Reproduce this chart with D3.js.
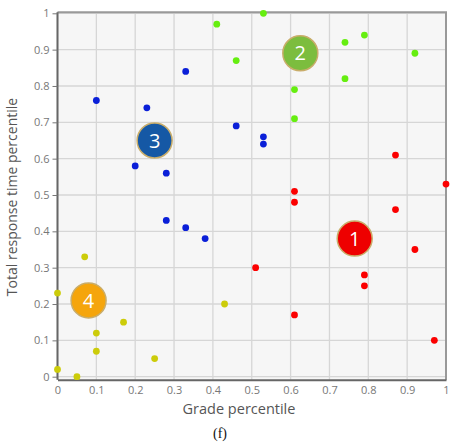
<!DOCTYPE html>
<html>
<head>
<meta charset="utf-8">
<script src="https://cdn.jsdelivr.net/npm/d3@7"></script>
<style>
  html, body { margin: 0; padding: 0; background: #fff; }
  svg { display: block; }
</style>
</head>
<body>
<svg id="chart" width="453" height="448"></svg>
<script>
// Cluster 1 (red)
const c1x = [0.87, 1.00, 0.61, 0.61, 0.87, 0.92, 0.51, 0.79, 0.79, 0.61, 0.97];
const c1y = [0.61, 0.53, 0.51, 0.48, 0.46, 0.35, 0.30, 0.28, 0.25, 0.17, 0.10];
// Cluster 2 (green)
const c2x = [0.41, 0.53, 0.46, 0.74, 0.79, 0.92, 0.74, 0.61, 0.61];
const c2y = [0.97, 1.00, 0.87, 0.92, 0.94, 0.89, 0.82, 0.79, 0.71];
// Cluster 3 (blue)
const c3x = [0.33, 0.10, 0.23, 0.20, 0.28, 0.28, 0.33, 0.38, 0.46, 0.53, 0.53];
const c3y = [0.84, 0.76, 0.74, 0.58, 0.56, 0.43, 0.41, 0.38, 0.69, 0.66, 0.64];
// Cluster 4 (yellow)
const c4x = [0.07, 0.00, 0.17, 0.10, 0.10, 0.25, 0.00, 0.05, 0.43];
const c4y = [0.33, 0.23, 0.15, 0.12, 0.07, 0.05, 0.02, 0.00, 0.20];

// Cluster badge positions and names
const badgeNames = ["1", "2", "3", "4"];
const badgeX = [0.765, 0.625, 0.25, 0.08];
const badgeY = [0.38, 0.89, 0.65, 0.21];

const ticks = [0, 0.1, 0.2, 0.3, 0.4, 0.5, 0.6, 0.7, 0.8, 0.9, 1];
const tickLabels = ["0", "0.1", "0.2", "0.3", "0.4", "0.5", "0.6", "0.7", "0.8", "0.9", "1"];

const xTitle = "Grade percentile";
const yTitle = "Total response time percentile";
const caption = "(f)";

const series = [
  { xs: c1x, ys: c1y, color: "#fb0000" },
  { xs: c2x, ys: c2y, color: "#66ee10" },
  { xs: c3x, ys: c3y, color: "#0a1fd8" },
  { xs: c4x, ys: c4y, color: "#cccc0a" }
];
const badgeFill = ["#ee0000", "#7cbd3e", "#1558a5", "#f5a50c"];

const svg = d3.select("#chart");
const x = d3.scaleLinear().domain([0, 1]).range([57.5, 446]);
const y = d3.scaleLinear().domain([0, 1]).range([376.7, 13.3]);

// plot background
svg.append("rect")
  .attr("x", x(0)).attr("y", y(1) - 1)
  .attr("width", x(1) - x(0)).attr("height", y(0) - y(1) + 4)
  .attr("fill", "#f6f6f6");

// grid
const grid = svg.append("g").attr("stroke", "#d6d6d6").attr("stroke-width", 1.3);
ticks.forEach(t => {
  grid.append("line").attr("x1", x(t)).attr("x2", x(t)).attr("y1", y(1) - 1).attr("y2", y(0) + 3);
  grid.append("line").attr("x1", x(0)).attr("x2", x(1)).attr("y1", y(t)).attr("y2", y(t));
});

// frame: top and right
svg.append("path")
  .attr("d", `M${x(0)},${y(1) - 1}H${x(1)}V${y(0) + 3}`)
  .attr("fill", "none").attr("stroke", "#999").attr("stroke-width", 2);

// axes
const fmt = (d) => tickLabels[ticks.indexOf(d)];
const xAxis = svg.append("g")
  .attr("transform", `translate(0,${y(0) + 3})`)
  .call(d3.axisBottom(x).tickValues(ticks).tickFormat(fmt).tickSize(0).tickPadding(7));
const yAxis = svg.append("g")
  .attr("transform", `translate(${x(0)},0)`)
  .call(d3.axisLeft(y).tickValues(ticks).tickFormat(fmt).tickSize(5).tickPadding(3));

[xAxis, yAxis].forEach(a => {
  a.select(".domain").attr("stroke", "#666").attr("stroke-width", 2);
  a.selectAll(".tick line").attr("stroke", "#777");
  a.selectAll(".tick text")
    .attr("fill", "#777")
    .style("font-family", "'Open Sans', sans-serif")
    .style("font-size", "11px");
});
yAxis.select(".domain").attr("d", `M0,${y(1) - 1}V${y(0) + 3}`);

// points
series.forEach(s => {
  svg.append("g").selectAll("circle")
    .data(s.xs.map((v, i) => [v, s.ys[i]]))
    .join("circle")
    .attr("cx", d => x(d[0]))
    .attr("cy", d => y(d[1]))
    .attr("r", 3.4)
    .attr("fill", s.color);
});

// cluster badges
const badges = svg.append("g");
badgeNames.forEach((n, i) => {
  const g = badges.append("g").attr("transform", `translate(${x(badgeX[i])},${y(badgeY[i])})`);
  g.append("circle").attr("r", 17.5)
    .attr("fill", badgeFill[i])
    .attr("stroke", "#c9ad6a").attr("stroke-width", 1.5);
  g.append("text")
    .attr("text-anchor", "middle").attr("dy", "0.36em")
    .attr("fill", "#fff")
    .style("font-family", "'Open Sans', sans-serif")
    .style("font-size", "20px")
    .text(n);
});

// titles
svg.append("text")
  .attr("x", 239).attr("y", 414)
  .attr("text-anchor", "middle")
  .attr("fill", "#555")
  .style("font-family", "'Open Sans', sans-serif")
  .style("font-size", "14.5px")
  .text(xTitle);

svg.append("text")
  .attr("transform", `translate(17,${(y(0) + y(1)) / 2 + 2}) rotate(-90)`)
  .attr("text-anchor", "middle")
  .attr("fill", "#555")
  .style("font-family", "'Open Sans', sans-serif")
  .style("font-size", "14px")
  .text(yTitle);

svg.append("text")
  .attr("x", 220).attr("y", 438)
  .attr("text-anchor", "middle")
  .attr("fill", "#111")
  .style("font-family", "'Liberation Serif', serif")
  .style("font-size", "14px")
  .text(caption);
</script>
</body>
</html>
